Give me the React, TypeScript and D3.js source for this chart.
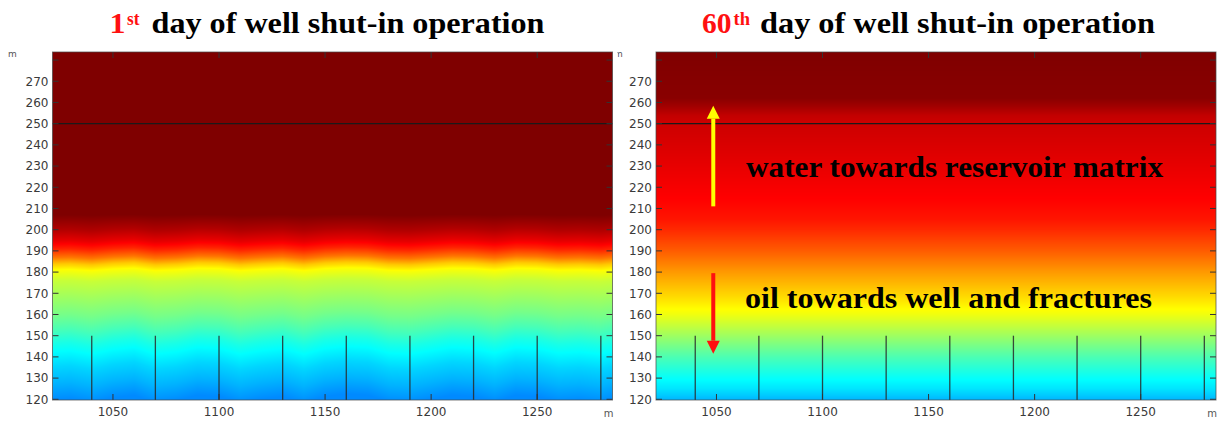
import React, { useMemo } from "react";
import * as d3 from "d3";

// Axis ticks (metres)
const xTicks = [1050, 1100, 1150, 1200, 1250];
const yTicks = [120, 130, 140, 150, 160, 170, 180, 190, 200, 210, 220, 230, 240, 250, 260, 270, 280];
const yLabelTicks = [120, 130, 140, 150, 160, 170, 180, 190, 200, 210, 220, 230, 240, 250, 260, 270];

// Hydraulic fractures (x positions) and their tip depth, plus the matrix interface
const fractureX = [1040, 1070, 1100, 1130, 1160, 1190, 1220, 1250, 1280];
const fractureTop = 150;
const interfaceDepth = 250;

// Water saturation (normalised) vs depth – day 1
const day1Depth = [119, 120, 128, 135, 142, 147, 153, 160, 168, 176, 181, 184, 187, 191, 195, 200, 207, 285];
const day1Sat = [0.26, 0.26, 0.3, 0.33, 0.37, 0.4, 0.445, 0.49, 0.53, 0.57, 0.62, 0.68, 0.76, 0.84, 0.9, 0.95, 1.0, 1.0];

// Water saturation (normalised) vs depth – day 60
const day60Depth = [119, 120, 125, 130, 140, 150, 160, 165, 170, 180, 190, 200, 205, 215, 225, 235, 245, 251, 254, 258, 262, 285];
const day60Sat = [0.3, 0.305, 0.35, 0.38, 0.45, 0.53, 0.61, 0.64, 0.67, 0.725, 0.785, 0.835, 0.855, 0.875, 0.89, 0.905, 0.918, 0.925, 0.935, 0.965, 0.99, 1.0];

// Lateral front displacement along x for day 1 (depth units)
const lateralX = [1021, 1030, 1040, 1050, 1060, 1070, 1080, 1090, 1100, 1110, 1120, 1130, 1140, 1150, 1160, 1170, 1180, 1190, 1200, 1210, 1220, 1230, 1240, 1250, 1260, 1270, 1280, 1286];
const lateralShift = [0.5, 0, 1.5, -0.5, -1.5, 1.5, 0.5, -1.5, -1, 1.5, 0, -1, 1.5, -1, -2, -1.5, 1, 1.5, 0, -1.5, -1, 1, -1.5, -1, 1, 0.5, 1.5, 0];
// How strongly the lateral displacement acts at each depth
const lateralDepth = [120, 150, 176, 200, 210];
const lateralWeight = [1.3, 1.0, 0.4, 0.4, 0];

// Jet colour map
const jetPos = [0, 0.125, 0.375, 0.625, 0.875, 1];
const jetColors = ["#00007f", "#0000ff", "#00ffff", "#ffff00", "#ff0000", "#7f0000"];

const xDomain: [number, number] = [1021.5, 1285.5];
const yDomain: [number, number] = [119.67, 283.8];

const PLOT_TOP = 52;
const PLOT_BOTTOM = 400;

function buildField(
  xs: d3.ScaleLinear<number, number>,
  ys: d3.ScaleLinear<number, number>,
  depth: number[],
  sat: number[],
  withLateral: boolean
): string {
  const [px0, px1] = xs.range();
  const w = Math.round(px1 - px0);
  const h = Math.round(PLOT_BOTTOM - PLOT_TOP);
  const canvas = document.createElement("canvas");
  canvas.width = w;
  canvas.height = h;
  const ctx = canvas.getContext("2d");
  if (!ctx) return "";
  const img = ctx.createImageData(w, h);
  const profile = d3.scaleLinear().domain(depth).range(sat).clamp(true);
  const shift = d3.scaleLinear().domain(lateralX).range(lateralShift).clamp(true);
  const weight = d3.scaleLinear().domain(lateralDepth).range(lateralWeight).clamp(true);
  const jet = d3
    .scaleLinear<string>()
    .domain(jetPos)
    .range(jetColors)
    .interpolate(d3.interpolateRgb)
    .clamp(true);
  const N = 1024;
  const lut = d3.range(N).map((i) => d3.rgb(jet(i / (N - 1))));
  for (let j = 0; j < h; j++) {
    const Y = ys.invert(PLOT_TOP + j + 0.5);
    const wgt = withLateral ? weight(Y) : 0;
    for (let i = 0; i < w; i++) {
      const X = xs.invert(px0 + i + 0.5);
      const yy = Y + (wgt ? shift(X) * wgt : 0);
      const s = profile(yy);
      const c = lut[Math.max(0, Math.min(N - 1, Math.round(s * (N - 1))))];
      const k = (j * w + i) * 4;
      img.data[k] = c.r;
      img.data[k + 1] = c.g;
      img.data[k + 2] = c.b;
      img.data[k + 3] = 255;
    }
  }
  ctx.putImageData(img, 0, 0);
  return canvas.toDataURL();
}

type PanelProps = {
  left: number;
  right: number;
  depth: number[];
  sat: number[];
  lateral: boolean;
  id: string;
  children?: (xs: d3.ScaleLinear<number, number>, ys: d3.ScaleLinear<number, number>) => React.ReactNode;
};

function Panel({ left, right, depth, sat, lateral, id, children }: PanelProps) {
  const xs = d3.scaleLinear().domain(xDomain).range([left, right]);
  const ys = d3.scaleLinear().domain(yDomain).range([PLOT_BOTTOM, PLOT_TOP]);
  const href = useMemo(() => buildField(xs, ys, depth, sat, lateral), [left, right]);
  const tickFont = { fontFamily: "DejaVu Sans, sans-serif", fontSize: 12, fill: "#3a3a3a" } as const;
  return (
    <g>
      <defs>
        <clipPath id={`clip-${id}`}>
          <rect x={left} y={PLOT_TOP} width={right - left} height={PLOT_BOTTOM - PLOT_TOP} />
        </clipPath>
      </defs>
      <image
        href={href}
        x={left}
        y={PLOT_TOP}
        width={right - left}
        height={PLOT_BOTTOM - PLOT_TOP}
        preserveAspectRatio="none"
      />
      <g clipPath={`url(#clip-${id})`}>
        <line
          x1={left}
          x2={right}
          y1={ys(interfaceDepth)}
          y2={ys(interfaceDepth)}
          stroke="#1a1a1a"
          strokeWidth={1.4}
        />
        {fractureX.map((fx) => (
          <line
            key={fx}
            x1={xs(fx)}
            x2={xs(fx)}
            y1={ys(fractureTop)}
            y2={PLOT_BOTTOM}
            stroke="#2a2a2a"
            strokeWidth={1.3}
            strokeOpacity={0.85}
          />
        ))}
        {/* inward ticks on all four sides */}
        {yTicks.map((t) => (
          <g key={t}>
            <line x1={left} x2={left + 6} y1={ys(t)} y2={ys(t)} stroke="#333" strokeWidth={1} />
            <line x1={right - 6} x2={right} y1={ys(t)} y2={ys(t)} stroke="#333" strokeWidth={1} />
          </g>
        ))}
        {xTicks.map((t) => (
          <g key={t}>
            <line x1={xs(t)} x2={xs(t)} y1={PLOT_BOTTOM} y2={PLOT_BOTTOM - 6} stroke="#333" strokeWidth={1} />
            <line x1={xs(t)} x2={xs(t)} y1={PLOT_TOP} y2={PLOT_TOP + 6} stroke="#333" strokeWidth={1} />
          </g>
        ))}
        {children && children(xs, ys)}
      </g>
      <rect
        x={left}
        y={PLOT_TOP}
        width={right - left}
        height={PLOT_BOTTOM - PLOT_TOP}
        fill="none"
        stroke="#444"
        strokeOpacity={0.7}
        strokeWidth={1}
      />
      {yLabelTicks.map((t) => (
        <text key={t} x={left - 4} y={ys(t) + 4.3} textAnchor="end" {...tickFont}>
          {t}
        </text>
      ))}
      {xTicks.map((t) => (
        <text key={t} x={xs(t)} y={416} textAnchor="middle" {...tickFont}>
          {t}
        </text>
      ))}
      <text x={right - 4} y={416.5} textAnchor="middle" fontFamily="DejaVu Sans, sans-serif" fontSize={10} fill="#555">
        m
      </text>
    </g>
  );
}

function Arrow({ x, yFrom, yTo, color }: { x: number; yFrom: number; yTo: number; color: string }) {
  const dir = yTo < yFrom ? -1 : 1;
  const headLen = 13;
  const headHalf = 6.5;
  const baseY = yTo - dir * headLen;
  return (
    <g>
      <line x1={x} x2={x} y1={yFrom} y2={baseY} stroke={color} strokeWidth={4} />
      <path d={`M${x - headHalf},${baseY} L${x + headHalf},${baseY} L${x},${yTo} Z`} fill={color} />
    </g>
  );
}

export default function App() {
  const titleFont = { fontFamily: "Liberation Serif, DejaVu Serif, serif", fontWeight: 700 } as const;
  return (
    <svg width={1219} height={423} style={{ display: "block", position: "absolute", left: 0, top: 0 }}>
      <rect x={0} y={0} width={1219} height={423} fill="#fff" />

      {/* titles */}
      <text x={109.5} y={33} fontSize={30} fill="#ff1010" textLength={16} lengthAdjust="spacingAndGlyphs" {...titleFont}>1</text>
      <text x={127} y={24.5} fontSize={18} fill="#ff1010" textLength={12.5} lengthAdjust="spacingAndGlyphs" {...titleFont}>st</text>
      <text x={151.5} y={33} fontSize={30} fill="#000" textLength={393} lengthAdjust="spacingAndGlyphs" {...titleFont}>
        day of well shut-in operation
      </text>

      <text x={702} y={33} fontSize={30} fill="#ff1010" textLength={29.5} lengthAdjust="spacingAndGlyphs" {...titleFont}>60</text>
      <text x={733.5} y={24.5} fontSize={18} fill="#ff1010" textLength={16.5} lengthAdjust="spacingAndGlyphs" {...titleFont}>th</text>
      <text x={760} y={33} fontSize={30} fill="#000" textLength={395} lengthAdjust="spacingAndGlyphs" {...titleFont}>
        day of well shut-in operation
      </text>

      {/* unit labels at the top of the vertical axes */}
      <text x={8} y={57} fontFamily="DejaVu Sans, sans-serif" fontSize={9} fill="#555">m</text>
      <defs>
        <clipPath id="unit-clip">
          <rect x={617.5} y={40} width={30} height={30} />
        </clipPath>
      </defs>
      <text x={614} y={57} fontFamily="DejaVu Sans, sans-serif" fontSize={9} fill="#555" clipPath="url(#unit-clip)">m</text>

      <Panel left={52.5} right={612.5} depth={day1Depth} sat={day1Sat} lateral={true} id="d1" />
      <Panel left={656} right={1216} depth={day60Depth} sat={day60Sat} lateral={false} id="d60">
        {(xs, ys) => (
          <g>
            <Arrow x={xs(1048.5)} yFrom={ys(211)} yTo={ys(258.5)} color="#ffff00" />
            <Arrow x={xs(1048.5)} yFrom={ys(179.5)} yTo={ys(141.5)} color="#ff1010" />
          </g>
        )}
      </Panel>

      {/* annotations */}
      <text x={746} y={177} fontSize={30} fill="#000" textLength={417} lengthAdjust="spacingAndGlyphs" {...titleFont}>
        water towards reservoir matrix
      </text>
      <text x={745} y={307.5} fontSize={30} fill="#000" textLength={407} lengthAdjust="spacingAndGlyphs" {...titleFont}>
        oil towards well and fractures
      </text>
    </svg>
  );
}
